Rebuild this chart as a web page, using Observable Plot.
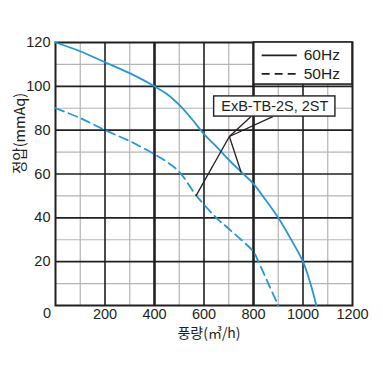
<!DOCTYPE html>
<html><head><meta charset="utf-8">
<script src="https://cdn.jsdelivr.net/npm/d3@7"></script>
<script src="https://cdn.jsdelivr.net/npm/@observablehq/plot@0.6"></script>
<style>body{margin:0;background:#fff}</style>
</head><body><div id="chart"></div>
<script>
// ---- data ----
const flow60 = [0,100,200,300,400,450,500,550,600,650,700,750,800,850,900,950,1000,1030,1054];
const pressure60 = [120,116,111,106,100,96.5,91.5,85.2,78.2,72.5,66.5,61,55.5,48,40,30.5,20,10,0];
const flow50 = [0,100,200,300,400,450,500,570,650,700,750,800,820,860,900];
const pressure50 = [90,85.5,80,75,69,65.5,61,50,40,35,30,24.5,20,10,0];
const xTicks = [200,400,600,800,1000,1200];
const yTicks = [20,40,60,80,100,120];
const xMinorGrid = [100,300,500,700,900,1100];
const xMajorGrid = [200,600,1000];
const xHeavyGrid = [400,800];
const yMinorGrid = [10,30,50,70,90,110];
const yMajorGrid = [20,40,60,80,100];
const seriesNames = ["60Hz","50Hz"];
const modelLabel = "ExB-TB-2S, 2ST";
const xLabel = "풍량(㎥/h)";
const yLabel = "정압(mmAq)";
// annotation geometry in data units (legend box, callout box, leader lines)
const legendBox = [{x1:803, x2:1200, y1:100.8, y2:120}];
const legendSolid = [{name:seriesNames[0], y:114.1}];
const legendDashed = [{name:seriesNames[1], y:105.7}];
const legendLine = {x1:835, x2:977, xText:1003};
const calloutBox = [{x1:641, x2:1131, y1:86.2, y2:95.4}];
const calloutText = [{x:886, y:90.8, label:modelLabel}];
const leaders = [
  {x1:790, y1:86.2, x2:702.5, y2:77.1},
  {x1:878, y1:86.2, x2:702.5, y2:77.1},
  {x1:702.5, y1:77.1, x2:750, y2:60.8},
  {x1:702.5, y1:77.1, x2:567, y2:49.9}
];

const s60 = flow60.map((x,i)=>({x, y:pressure60[i]}));
const s50 = flow50.map((x,i)=>({x, y:pressure50[i]}));
const blue = "#2597d8";
const ink = "#231f20";
const font = "'Liberation Sans', Arial, sans-serif";
const kfont = "'Noto Sans CJK KR', sans-serif";

const chart = Plot.plot({
  width: 383, height: 372,
  marginLeft: 55, marginRight: 31, marginTop: 42, marginBottom: 67,
  x: {domain:[0,1200]},
  y: {domain:[0,120]},
  axis: null,
  style: {fontFamily: font, fontSize: "14.5px", color: ink, background: "#fff"},
  marks: [
    Plot.ruleX(xMinorGrid, {stroke:"#b4b4b4", strokeWidth:1.2}),
    Plot.ruleY(yMinorGrid, {stroke:"#b4b4b4", strokeWidth:1.2}),
    Plot.ruleX(xMajorGrid, {stroke:ink, strokeWidth:1.6}),
    Plot.ruleY(yMajorGrid, {stroke:ink, strokeWidth:1.6}),
    Plot.ruleX(xHeavyGrid, {stroke:ink, strokeWidth:2.6}),
    Plot.frame({stroke:ink, strokeWidth:2}),
    Plot.line(s60, {x:"x", y:"y", stroke:blue, strokeWidth:1.8, curve:"catmull-rom"}),
    Plot.line(s50, {x:"x", y:"y", stroke:blue, strokeWidth:1.8, strokeDasharray:"9,5", curve:"catmull-rom"}),
    Plot.link(leaders, {x1:"x1", y1:"y1", x2:"x2", y2:"y2", stroke:ink, strokeWidth:1.3}),
    Plot.rect(calloutBox, {x1:"x1", x2:"x2", y1:"y1", y2:"y2", fill:"#fff", stroke:ink, strokeWidth:1.4}),
    Plot.text(calloutText, {x:"x", y:"y", text:"label", fontSize:14.5, fill:ink}),
    Plot.rect(legendBox, {x1:"x1", x2:"x2", y1:"y1", y2:"y2", fill:"#fff", stroke:ink, strokeWidth:1.6}),
    Plot.ruleY(legendSolid, {y:"y", x1:legendLine.x1, x2:legendLine.x2, stroke:ink, strokeWidth:1.8}),
    Plot.ruleY(legendDashed, {y:"y", x1:legendLine.x1, x2:legendLine.x2, stroke:ink, strokeWidth:1.8, strokeDasharray:"8,5"}),
    Plot.text(legendSolid.concat(legendDashed), {x:legendLine.xText, y:"y", text:"name", textAnchor:"start", fontSize:15.5, fill:ink, style:{letterSpacing:"1px"}}),
    Plot.axisX(xTicks, {tickSize:0, tickPadding:3, fontSize:14.5, fill:ink, tickFormat:d=>String(d)}),
    Plot.axisY(yTicks, {tickSize:0, tickPadding:5, fontSize:14.5, fill:ink, tickFormat:d=>String(d)}),
    Plot.text([0], {x:d=>d, y:0, dx:-8.5, dy:8, fontSize:14.5, fill:ink}),
    Plot.text([xLabel], {frameAnchor:"bottom", lineAnchor:"middle", dy:28, dx:5, fontFamily:kfont, fontSize:14, fill:ink}),
    Plot.text([yLabel], {frameAnchor:"left", lineAnchor:"middle", rotate:-90, dx:-35, fontFamily:kfont, fontSize:14.5, fill:ink})
  ]
});
document.getElementById("chart").appendChild(chart);
</script>
</body></html>
